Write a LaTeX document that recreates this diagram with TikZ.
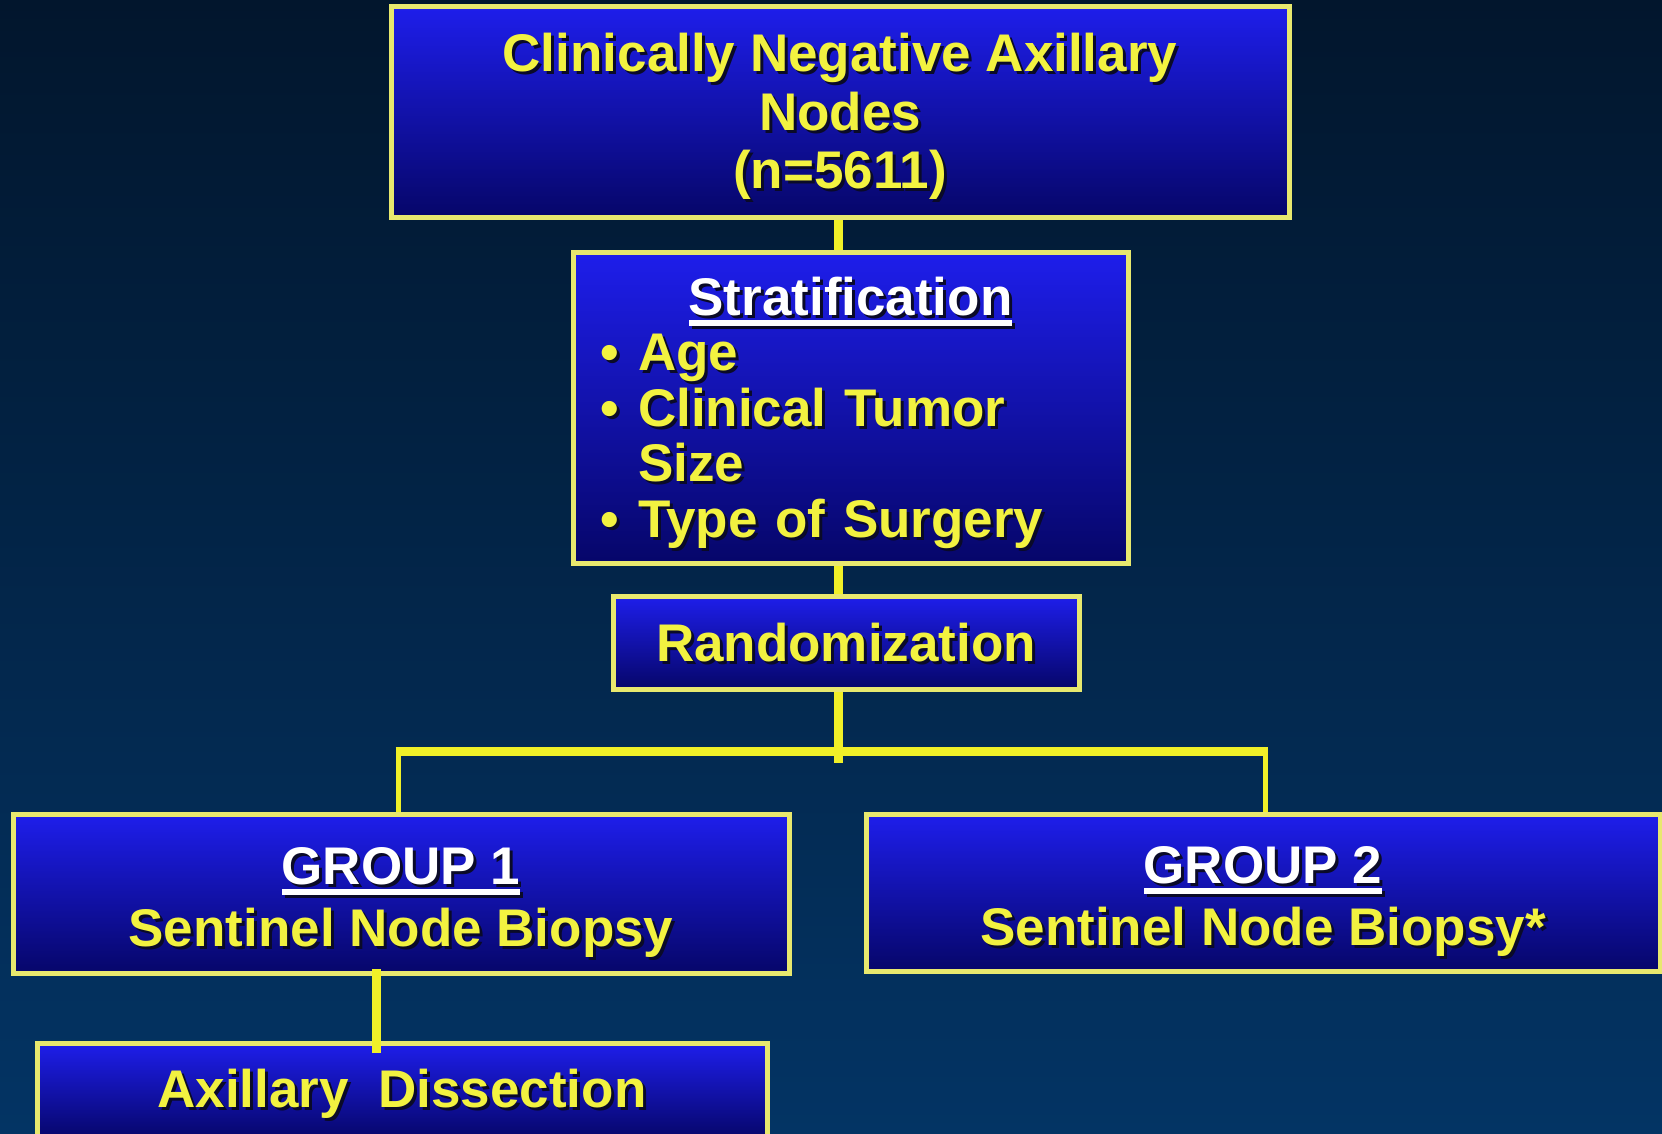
\documentclass[tikz,border=0pt]{standalone}
\usepackage{fontspec}
\setmainfont{Liberation Sans}
\definecolor{bgtop}{RGB}{2,22,45}
\definecolor{bgbot}{RGB}{3,52,100}
\definecolor{boxtop}{RGB}{30,30,235}
\definecolor{boxbot}{RGB}{6,6,105}
\definecolor{bordery}{RGB}{232,232,110}
\definecolor{liney}{RGB}{240,240,40}
\definecolor{txty}{RGB}{242,242,64}
\definecolor{shadowc}{RGB}{10,10,40}
\newlength\ulen
\newcommand\shd[1]{\makebox[0pt][l]{\hspace*{3pt}\raisebox{-3pt}[0pt][0pt]{\color{shadowc}#1}}#1}
\newcommand\ulbox[1]{\settowidth\ulen{#1}#1\llap{\rule[-0.2em]{\ulen}{0.11em}}}
\newcommand\hdr[1]{\makebox[0pt][l]{\hspace*{3pt}\raisebox{-3pt}[0pt][0pt]{\color{shadowc}\ulbox{#1}}}\textcolor{white}{\ulbox{#1}}}
\newcommand\lift[1]{\rule{0pt}{#1}}
\tikzset{
  box/.style={draw=bordery, line width=5pt, top color=boxtop, bottom color=boxbot,
    inner sep=0pt, text=txty, align=center, font=\bfseries\fontsize{53}{58}\selectfont},
  conn/.style={draw=liney, line width=9pt},
  drop/.style={draw=liney, line width=5pt},
}
\begin{document}
\begin{tikzpicture}[x=1pt,y=-1pt]
\useasboundingbox (0,0) rectangle (1662,1133);
\fill[top color=bgtop,bottom color=bgbot] (0,0) rectangle (1662,1133);

\node[box, minimum width=898pt, minimum height=211pt, font=\bfseries\fontsize{53}{58.5}\selectfont]
  (top) at (840,111.5) {\lift{48pt}\shd{Clinically Negative Axillary}\\\shd{Nodes}\\\shd{(n=5611)}};
\node[box, minimum width=555pt, minimum height=311pt, text width=501pt, align=left,
  font=\bfseries\fontsize{53}{55.5}\selectfont] (strat) at (850.5,407.5)
  {{\centering\lift{49pt}\hdr{Stratification}\par}
   \makebox[38pt][l]{\shd{•}}\shd{Age}\\
   \makebox[38pt][l]{\shd{•}}\shd{Clinical Tumor}\\
   \hspace*{38pt}\shd{Size}\\
   \makebox[38pt][l]{\shd{•}}\shd{Type of Surgery}};
\node[box, minimum width=466pt, minimum height=93pt] (rand) at (846,642.5) {\shd{Randomization}};
\node[box, minimum width=776pt, minimum height=159pt, font=\bfseries\fontsize{53}{62}\selectfont]
  (g1) at (401,894) {\lift{54pt}\hdr{GROUP 1}\\\shd{Sentinel Node Biopsy}};
\node[box, minimum width=794pt, minimum height=157pt, font=\bfseries\fontsize{53}{62}\selectfont]
  (g2) at (1263,893) {\lift{54pt}\hdr{GROUP 2}\\\shd{Sentinel Node Biopsy*}};
\node[box, minimum width=730pt, minimum height=96pt] (ax) at (402,1091) {\lift{43pt}\shd{Axillary\ \ Dissection}};

\coordinate (tx) at (838.5,0);
\coordinate (split) at (838.5,751.5);
\coordinate (d1) at (398.5,751.5);
\coordinate (d2) at (1265,751.5);
\coordinate (d3) at (376.5,0);

\draw[conn] (top.south -| tx) -- (strat.north -| tx);
\draw[conn] (strat.south -| tx) -- (rand.north -| tx);
\draw[conn, shorten >=-11pt] (rand.south -| tx) -- (split);
\draw[drop] (d1) -- (d1 |- g1.north);
\draw[drop] (d2) -- (d2 |- g2.north);
\draw[conn] ([xshift=-3pt]d1) -- ([xshift=3pt]d2);
\draw[conn, shorten <=-7pt, shorten >=-12pt] (g1.south -| d3) -- (ax.north -| d3);
\end{tikzpicture}
\end{document}
